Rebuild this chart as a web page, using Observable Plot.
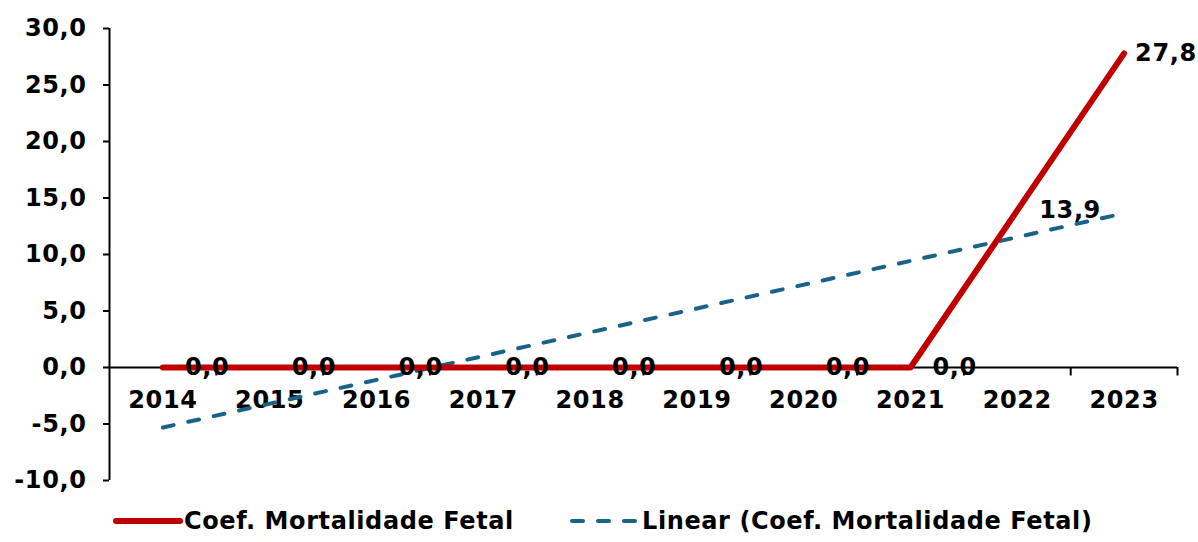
<!DOCTYPE html>
<html>
<head>
<meta charset="utf-8">
<script src="https://cdn.jsdelivr.net/npm/d3@7"></script>
<script src="https://cdn.jsdelivr.net/npm/@observablehq/plot@0.6"></script>
<style>
  html, body { margin: 0; padding: 0; background: #fff; }
  body { width: 1198px; height: 542px; overflow: hidden; font-family: "DejaVu Sans", Verdana, sans-serif; font-weight: bold; }
  #legend { position: relative; height: 42px; font-size: 24px; letter-spacing: 0.6px; color: #000; }
  .item { position: absolute; top: 0; height: 42px; display: flex; align-items: center; white-space: nowrap; }
  .item svg { display: block; }
</style>
</head>
<body>
<div id="chart"></div>
<div id="legend">
  <div class="item" style="left:112px">
    <svg width="72" height="12"><line x1="4" y1="6" x2="68" y2="6" stroke="#C00000" stroke-width="6" stroke-linecap="round"/></svg>
    <span>Coef. Mortalidade Fetal</span>
  </div>
  <div class="item" style="left:568px">
    <svg width="74" height="12"><line x1="4" y1="6" x2="72" y2="6" stroke="#1A6388" stroke-width="4" stroke-dasharray="11,15" stroke-linecap="round"/></svg>
    <span>Linear (Coef. Mortalidade Fetal)</span>
  </div>
</div>
<script>
const years = [2014, 2015, 2016, 2017, 2018, 2019, 2020, 2021, 2022, 2023];
const values = [0.0, 0.0, 0.0, 0.0, 0.0, 0.0, 0.0, 0.0, 13.9, 27.8];
const yTicks = [-10, -5, 0, 5, 10, 15, 20, 25, 30];
const boundaries = [2014.5, 2015.5, 2016.5, 2017.5, 2018.5, 2019.5, 2020.5, 2021.5, 2022.5, 2023.5];

const data = years.map((year, i) => ({year, value: values[i]}));
const fmt = v => v.toFixed(1).replace(".", ",");

const red = "#C00000";
const blue = "#1A6388";
const lastYear = years[years.length - 1];

const chart = Plot.plot({
  width: 1198,
  height: 500,
  marginLeft: 109,
  marginRight: 21,
  marginTop: 28,
  marginBottom: 20,
  style: {fontFamily: "'DejaVu Sans', Verdana, sans-serif", fontWeight: "bold", fontSize: "24px", letterSpacing: "0.6px", color: "#000", background: "#fff", overflow: "visible"},
  x: {type: "linear", domain: [2013.5, 2023.5], axis: null},
  y: {domain: [-10, 30], axis: null},
  marks: [
    Plot.axisY({ticks: yTicks, tickFormat: fmt, tickSize: 6, tickPadding: 17, fontSize: 24, fontWeight: "bold", strokeWidth: 2, label: null}),
    Plot.ruleX([2013.5], {y1: -10, y2: 30, stroke: "#000", strokeWidth: 2}),
    Plot.ruleY([0], {x1: 2013.5, x2: 2023.5, stroke: "#000", strokeWidth: 2}),
    Plot.ruleX(boundaries, {y1: 0, y2: -0.75, stroke: "#000", strokeWidth: 2}),
    Plot.text(years, {x: d => d, y: 0, text: d => String(d), dy: 33, fontSize: 24, fontWeight: "bold", fill: "#000"}),
    Plot.linearRegressionY(data, {x: "year", y: "value", ci: 0, stroke: blue, strokeWidth: 4, strokeDasharray: "11,15", strokeLinecap: "round"}),
    Plot.line(data, {x: "year", y: "value", stroke: red, strokeWidth: 6, strokeLinecap: "round", strokeLinejoin: "round"}),
    Plot.text(data.filter(d => d.year !== lastYear), {x: "year", y: "value", text: d => fmt(d.value), textAnchor: "start", dx: 22, fontSize: 24, fontWeight: "bold", fill: "#000"}),
    Plot.text(data.filter(d => d.year === lastYear), {x: "year", y: "value", text: d => fmt(d.value), textAnchor: "start", dx: 11, fontSize: 24, fontWeight: "bold", fill: "#000"})
  ]
});
document.getElementById("chart").appendChild(chart);
</script>
</body>
</html>
